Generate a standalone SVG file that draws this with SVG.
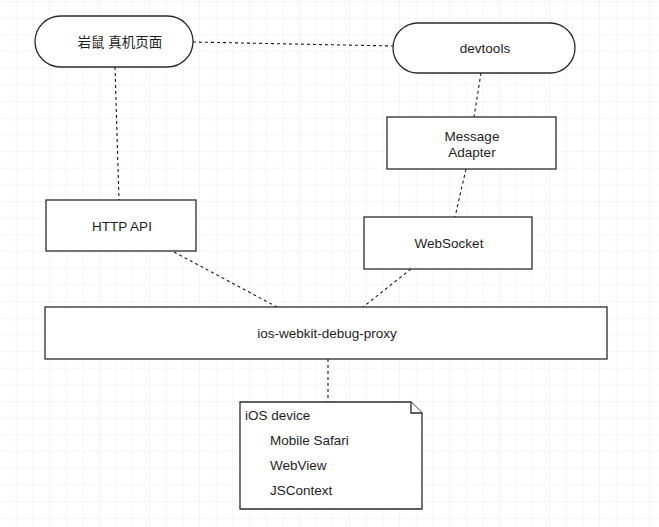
<svg xmlns="http://www.w3.org/2000/svg" width="659" height="527" viewBox="0 0 659 527">
  <defs>
    <pattern id="grid" width="16.667" height="16.667" patternUnits="userSpaceOnUse" x="0" y="2">
      <path d="M16.667 0 V16.667 M0 16.667 H16.667" fill="none" stroke="#ececec" stroke-width="1"/>
    </pattern>
    <style>
      .shape { fill: #ffffff; stroke: #2b2b2b; stroke-width: 1.3; }
      .conn { fill: none; stroke: #1a1a1a; stroke-width: 1.1; stroke-dasharray: 3 3; }
      .lbl { font-family: "Liberation Sans", Arial, "Noto Sans CJK SC", sans-serif; font-size: 13.5px; fill: #1e1e1e; }
      .mid { text-anchor: middle; dominant-baseline: central; }
    </style>
  </defs>
  <rect width="659" height="527" fill="#ffffff"/>
  <rect width="659" height="527" fill="url(#grid)"/>

  <g id="connectors">
    <line class="conn" x1="193" y1="42" x2="393" y2="46"/>
    <line class="conn" x1="115" y1="67" x2="119" y2="200"/>
    <line class="conn" x1="481" y1="73" x2="474" y2="117"/>
    <line class="conn" x1="466" y1="169" x2="455" y2="217"/>
    <line class="conn" x1="174" y1="252" x2="277" y2="307"/>
    <line class="conn" x1="411" y1="269" x2="363" y2="307"/>
    <line class="conn" x1="328" y1="359" x2="328" y2="402"/>
  </g>

  <g id="node-yanshu">
    <rect class="shape" x="35" y="16" width="158" height="51" rx="25.5" ry="25.5"/>
    <text class="lbl mid" x="120" y="42">岩鼠 真机页面</text>
  </g>

  <g id="node-devtools">
    <rect class="shape" x="393" y="23" width="182" height="50" rx="25" ry="25"/>
    <text class="lbl mid" x="485" y="48">devtools</text>
  </g>

  <g id="node-message-adapter">
    <rect class="shape" x="387" y="117" width="169" height="52"/>
    <text class="lbl mid" x="472" y="136">Message</text>
    <text class="lbl mid" x="472" y="152">Adapter</text>
  </g>

  <g id="node-http-api">
    <rect class="shape" x="46" y="200" width="150" height="51"/>
    <text class="lbl mid" x="122" y="226">HTTP API</text>
  </g>

  <g id="node-websocket">
    <rect class="shape" x="364" y="217" width="168" height="52"/>
    <text class="lbl mid" x="449" y="243">WebSocket</text>
  </g>

  <g id="node-proxy">
    <rect class="shape" x="45" y="307" width="562" height="52"/>
    <text class="lbl mid" x="327" y="333">ios-webkit-debug-proxy</text>
  </g>

  <g id="node-ios-device">
    <path class="shape" d="M240 402 H411 L422 413 V509 H240 Z"/>
    <path class="shape" d="M411 402 V413 H422" fill="none"/>
    <text class="lbl" x="245" y="420">iOS device</text>
    <text class="lbl" x="270" y="445">Mobile Safari</text>
    <text class="lbl" x="270" y="470">WebView</text>
    <text class="lbl" x="270" y="495">JSContext</text>
  </g>
</svg>
